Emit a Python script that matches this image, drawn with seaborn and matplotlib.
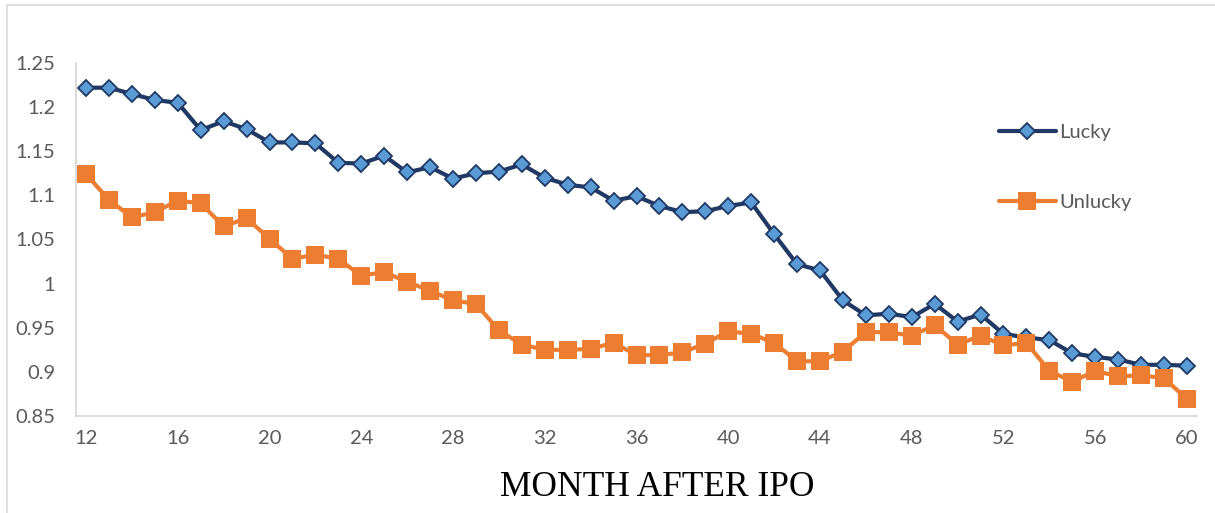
import numpy as np
import pandas as pd
import matplotlib
matplotlib.use("Agg")
import matplotlib.pyplot as plt
import seaborn as sns

# Données
months = list(range(12, 61))
lucky = [1.222, 1.222, 1.215, 1.208, 1.205, 1.174, 1.184, 1.175, 1.160, 1.160,
         1.159, 1.137, 1.136, 1.145, 1.126, 1.132, 1.119, 1.125, 1.127, 1.135,
         1.120, 1.112, 1.109, 1.094, 1.099, 1.088, 1.081, 1.082, 1.088, 1.092,
         1.056, 1.022, 1.015, 0.981, 0.964, 0.966, 0.962, 0.977, 0.957, 0.965,
         0.943, 0.939, 0.936, 0.921, 0.917, 0.914, 0.908, 0.908, 0.907]
unlucky = [1.124, 1.095, 1.075, 1.081, 1.094, 1.091, 1.065, 1.074, 1.051, 1.028,
           1.033, 1.028, 1.009, 1.013, 1.002, 0.992, 0.981, 0.977, 0.947, 0.931,
           0.925, 0.925, 0.926, 0.933, 0.919, 0.919, 0.922, 0.932, 0.946, 0.943,
           0.933, 0.912, 0.912, 0.923, 0.945, 0.945, 0.941, 0.953, 0.931, 0.941,
           0.930, 0.933, 0.901, 0.889, 0.901, 0.895, 0.896, 0.893, 0.869]
xticks = list(range(12, 61, 4))
yticks = [0.85, 0.9, 0.95, 1.0, 1.05, 1.1, 1.15, 1.2, 1.25]
ytick_labels = ["0.85", "0.9", "0.95", "1", "1.05", "1.1", "1.15", "1.2", "1.25"]

sns.set_style("white")
plt.rcParams['font.family'] = ['Lato', 'DejaVu Sans']

fig = plt.figure(figsize=(12.15, 5.13), dpi=100)
ax = fig.add_axes([76 / 1215, 97 / 513, 1121 / 1215, 353 / 513])

# Cadre extérieur du graphique
fig.patches.append(plt.Rectangle((7 / 1215, -0.1), 1.2, 1.1 - 5 / 513,
                                 transform=fig.transFigure, fill=False,
                                 edgecolor='#d9d9d9', linewidth=1.2))

sns.lineplot(x=months, y=lucky, ax=ax, color='#1f3864', linewidth=3,
             marker='D', markersize=8.5, markerfacecolor='#5b9bd5',
             markeredgecolor='#1f3864', markeredgewidth=1.3, label='Lucky')
sns.lineplot(x=months, y=unlucky, ax=ax, color='#ed7d31', linewidth=3,
             marker='s', markersize=12.5, markerfacecolor='#ed7d31',
             markeredgecolor='#ed7d31', markeredgewidth=0, label='Unlucky')

ax.set_xlim(11.564, 60.436)
ax.set_ylim(0.85, 1.25)
ax.set_xticks(xticks)
ax.set_xticklabels([str(m) for m in xticks])
ax.set_yticks(yticks)
ax.set_yticklabels(ytick_labels)
ax.tick_params(axis='both', length=0, labelsize=14.5, labelcolor='#595959')
ax.tick_params(axis='y', pad=15)
ax.tick_params(axis='x', pad=10)

for side in ['top', 'right']:
    ax.spines[side].set_visible(False)
for side in ['left', 'bottom']:
    ax.spines[side].set_color('#d9d9d9')
    ax.spines[side].set_linewidth(1.3)

ax.set_xlabel('MONTH AFTER IPO', family='Liberation Serif', fontsize=25.5,
              color='black')
ax.xaxis.set_label_coords((657 - 76) / 1121, -(487 - 416) / 353)
ax.xaxis.label.set_verticalalignment('center')
ax.set_ylabel('')

leg = ax.legend(loc='upper left', bbox_to_anchor=(981 / 1215, 1 - 106 / 513),
                bbox_transform=fig.transFigure, frameon=False, fontsize=14.5,
                handlelength=2.8, labelspacing=2.6, handletextpad=0.2)
for t in leg.get_texts():
    t.set_color('#595959')

fig.savefig('out.png', dpi=100)
